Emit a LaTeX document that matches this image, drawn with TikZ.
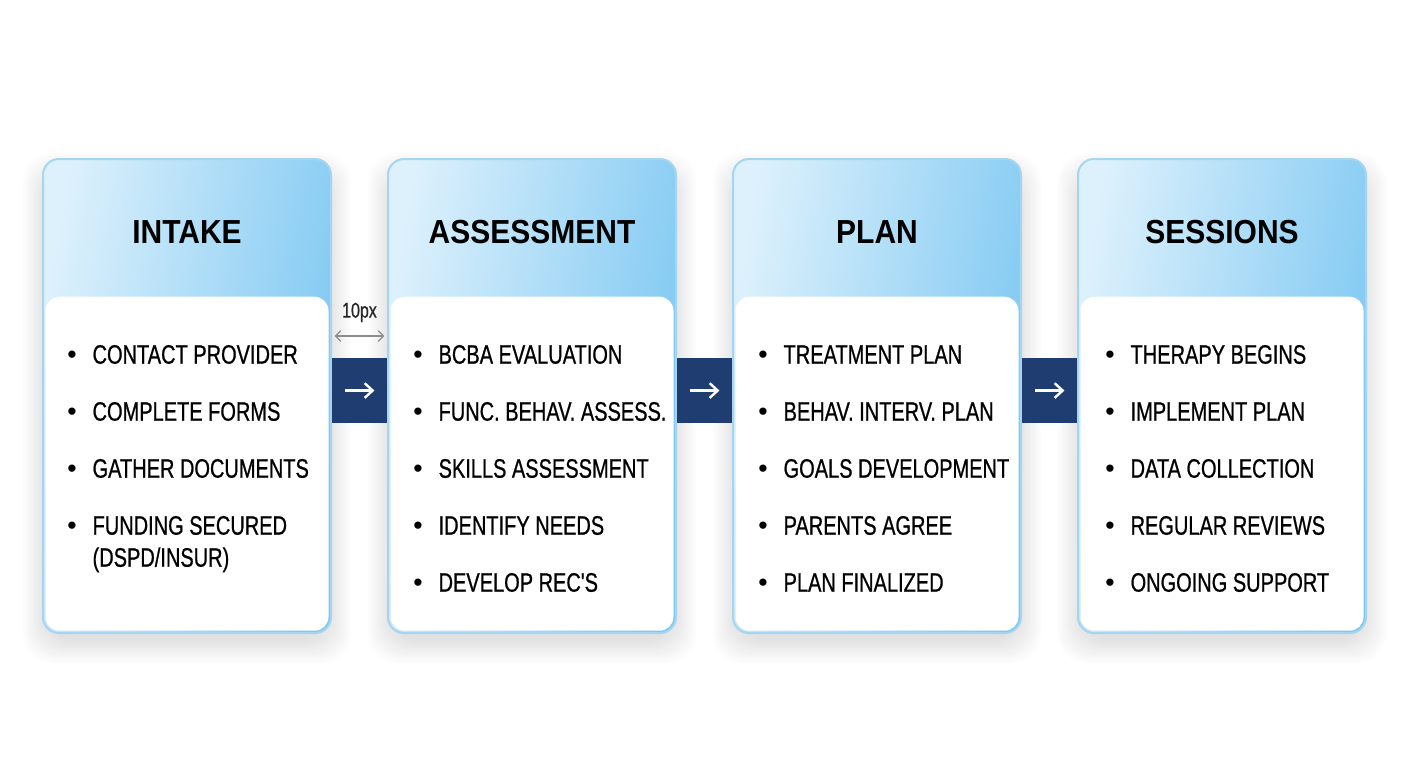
\documentclass[tikz,border=0pt]{standalone}
\usepackage{fontspec}
\setmainfont{Liberation Sans}
\newfontfamily\itemfont{Liberation Sans}[FakeStretch=0.75, FakeBold=0.7]
\newfontfamily\headfont{Liberation Sans}[FakeStretch=0.9]
\usepackage{xcolor}
\usepackage{tikz}
\usetikzlibrary{arrows.meta, positioning, calc, backgrounds}

\definecolor{cardline}{HTML}{A6D5F1}
\definecolor{headlight}{HTML}{DDF1FC}
\definecolor{headblue}{HTML}{7CC7F2}
\definecolor{linkblue}{HTML}{1F3D70}

\begin{document}
\begin{tikzpicture}[x=0.75pt, y=-0.75pt, node distance=41.25pt,
    card/.style={rectangle, draw=cardline, line width=1.5pt, rounded corners=12pt, minimum width=216pt, minimum height=355.5pt, left color=headlight, right color=headblue, shading angle=80},
    cardshadow/.style={fill=black, opacity=0.013, rounded corners=22pt},
    cardbody/.style={rectangle, fill=white, rounded corners=10.5pt, minimum width=212.25pt, minimum height=250.5pt, anchor=south},
    cardtitle/.style={font=\headfont\bfseries\fontsize{25}{30}\selectfont, text=black},
    itemlist/.style={font=\itemfont\fontsize{20}{24}\selectfont, inner sep=0pt, anchor=north west, align=left},
    linkbox/.style={rectangle, fill=linkblue, minimum width=41.25pt, minimum height=48.75pt, inner sep=0pt},
    linkarrow/.style={white, line width=1.8pt, -{Straight Barb[length=6pt, width=11pt]}},
    gapdim/.style={black!45, line width=0.9pt, {Straight Barb[length=4pt, width=8pt]}-{Straight Barb[length=4pt, width=8pt]}, shorten <=2pt, shorten >=2pt}]

    \path[use as bounding box] (0,0) rectangle (1408,768);

    % the four stage cards
    \node [card] (intake) at (187,396) {};
    \node [card, right=of intake] (assess) {};
    \node [card, right=of assess] (plan) {};
    \node [card, right=of plan] (sessions) {};

    % soft shadows under the cards
    \begin{scope}[on background layer]
        \fill[white] (0,0) rectangle (1408,768);
        \foreach \stage in {intake, assess, plan, sessions}
            \foreach \k in {1,...,10}
                \fill[cardshadow] ($(\stage.north west)+({6-2.5*\k},{20-2.5*\k})$) rectangle ($(\stage.south east)+({-6+2.5*\k},{4+2.5*\k})$);
    \end{scope}

    \foreach \stage in {intake, assess, plan, sessions}
        \node [cardbody] (\stage body) at ($(\stage.south)+(0,-3)$) {};

    \node [cardtitle] (intaketitle) at ($(intake.north)+(0,74)$) {INTAKE};
    \node [cardtitle] (assesstitle) at ($(assess.north)+(0,74)$) {ASSESSMENT};
    \node [cardtitle] (plantitle) at ($(plan.north)+(0,74)$) {PLAN};
    \node [cardtitle] (sessionstitle) at ($(sessions.north)+(0,74)$) {SESSIONS};

    \node [itemlist] (intakeitems) at ($(intake.north west)+(25,183)$) {%
        \begin{tabular}{@{}l@{\hspace{12pt}}l@{}}
        {\rmfamily\textbullet} & CONTACT PROVIDER\\[18.75pt]
        {\rmfamily\textbullet} & COMPLETE FORMS\\[18.75pt]
        {\rmfamily\textbullet} & GATHER DOCUMENTS\\[18.75pt]
        {\rmfamily\textbullet} & FUNDING SECURED\\
         & (DSPD/INSUR)
        \end{tabular}};
    \node [itemlist] (assessitems) at ($(assess.north west)+(26,183)$) {%
        \begin{tabular}{@{}l@{\hspace{12pt}}l@{}}
        {\rmfamily\textbullet} & BCBA EVALUATION\\[18.75pt]
        {\rmfamily\textbullet} & FUNC. BEHAV. ASSESS.\\[18.75pt]
        {\rmfamily\textbullet} & SKILLS ASSESSMENT\\[18.75pt]
        {\rmfamily\textbullet} & IDENTIFY NEEDS\\[18.75pt]
        {\rmfamily\textbullet} & DEVELOP REC'S
        \end{tabular}};
    \node [itemlist] (planitems) at ($(plan.north west)+(26,183)$) {%
        \begin{tabular}{@{}l@{\hspace{12pt}}l@{}}
        {\rmfamily\textbullet} & TREATMENT PLAN\\[18.75pt]
        {\rmfamily\textbullet} & BEHAV. INTERV. PLAN\\[18.75pt]
        {\rmfamily\textbullet} & GOALS DEVELOPMENT\\[18.75pt]
        {\rmfamily\textbullet} & PARENTS AGREE\\[18.75pt]
        {\rmfamily\textbullet} & PLAN FINALIZED
        \end{tabular}};
    \node [itemlist] (sessionsitems) at ($(sessions.north west)+(28,183)$) {%
        \begin{tabular}{@{}l@{\hspace{12pt}}l@{}}
        {\rmfamily\textbullet} & THERAPY BEGINS\\[18.75pt]
        {\rmfamily\textbullet} & IMPLEMENT PLAN\\[18.75pt]
        {\rmfamily\textbullet} & DATA COLLECTION\\[18.75pt]
        {\rmfamily\textbullet} & REGULAR REVIEWS\\[18.75pt]
        {\rmfamily\textbullet} & ONGOING SUPPORT
        \end{tabular}};

    % links between the stages
    \node [linkbox, right=0pt of intake, yshift=4.1pt] (link1) {};
    \node [linkbox, right=0pt of assess, yshift=4.1pt] (link2) {};
    \node [linkbox, right=0pt of plan, yshift=4.1pt] (link3) {};
    \foreach \link in {link1, link2, link3}
        \draw [linkarrow] ([xshift=-11pt]\link.center) -- ([xshift=11pt]\link.center);

    % gap marker
    \coordinate (gaprow) at (0,336);
    \draw [gapdim] (intake.east |- gaprow) -- (assess.west |- gaprow)
        node [midway, above=10pt, inner sep=0pt, font=\itemfont\fontsize{16}{19}\selectfont, text=black!85] {10px};
\end{tikzpicture}
\end{document}
